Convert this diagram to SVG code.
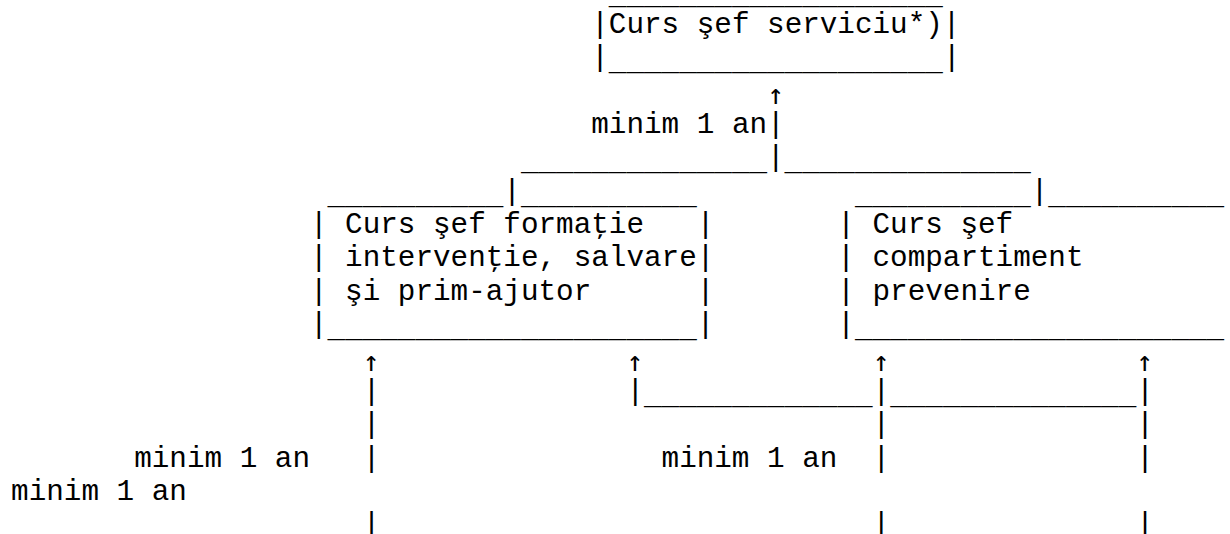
<svg xmlns="http://www.w3.org/2000/svg" width="1230" height="534" viewBox="0 0 1230 534">
<style>
.t{font-family:"Liberation Mono","Courier New",monospace;font-size:29.3px;fill:#000;white-space:pre}
.a{font-family:"DejaVu Sans Mono","DejaVu Sans",monospace;font-size:28px;fill:#000;text-anchor:middle}
</style>
<rect width="1230" height="534" fill="#fff"/>
<g id="node-sef-serviciu">
<text class="t" x="608.82" y="3.6">___________________</text>
<text class="t" x="591.24" y="32.95" xml:space="preserve">|Curs şef serviciu*)|</text>
<text class="t" x="591.24" y="66.3">|<tspan dy="4">___________________</tspan><tspan dy="-4">|</tspan></text>
</g>
<g id="node-sef-formatie">
<text class="t" x="327.54" y="203.7">__________</text>
<text class="t" x="520.92" y="203.7">__________</text>
<text class="t" x="309.96" y="233.05" xml:space="preserve">| Curs şef formaţie   |</text>
<text class="t" x="309.96" y="266.4" xml:space="preserve">| intervenţie, salvare|</text>
<text class="t" x="309.96" y="299.75" xml:space="preserve">| şi prim-ajutor      |</text>
<text class="t" x="309.96" y="333.1">|<tspan dy="4">_____________________</tspan><tspan dy="-4">|</tspan></text>
</g>
<g id="node-sef-compartiment">
<text class="t" x="854.94" y="203.7">__________</text>
<text class="t" x="1048.32" y="203.7">__________</text>
<text class="t" x="837.36" y="233.05" xml:space="preserve">| Curs şef</text>
<text class="t" x="837.36" y="266.4" xml:space="preserve">| compartiment</text>
<text class="t" x="837.36" y="299.75" xml:space="preserve">| prevenire</text>
<text class="t" x="837.36" y="333.1">|<tspan dy="4">_____________________</tspan></text>
</g>
<g id="connectors">
<text class="a" x="775.83" y="104">↑</text>
<text class="t" x="591.24" y="133.0" xml:space="preserve">minim 1 an|</text>
<text class="t" x="520.92" y="170.35">______________</text>
<text class="t" x="767.04" y="166.35">|</text>
<text class="t" x="784.62" y="170.35">______________</text>
<text class="t" x="503.34" y="199.7">|</text>
<text class="t" x="1030.74" y="199.7">|</text>
<text class="a" x="371.49" y="371">↑</text>
<text class="a" x="635.19" y="371">↑</text>
<text class="a" x="881.31" y="371">↑</text>
<text class="a" x="1145.01" y="371">↑</text>
<text class="t" x="362.7" y="399.8">|</text>
<text class="t" x="626.4" y="399.8">|<tspan dy="4">_____________</tspan><tspan dy="-4">|</tspan><tspan dy="4">______________</tspan><tspan dy="-4">|</tspan></text>
<text class="t" x="362.7" y="433.15">|</text>
<text class="t" x="872.52" y="433.15">|</text>
<text class="t" x="1136.22" y="433.15">|</text>
<text class="t" x="134.16" y="466.5" xml:space="preserve">minim 1 an   |</text>
<text class="t" x="661.56" y="466.5" xml:space="preserve">minim 1 an  |</text>
<text class="t" x="1136.22" y="466.5">|</text>
<text class="t" x="11.1" y="499.85" xml:space="preserve">minim 1 an</text>
<text class="t" x="362.7" y="533.2">|</text>
<text class="t" x="872.52" y="533.2">|</text>
<text class="t" x="1136.22" y="533.2">|</text>
</g>
</svg>
